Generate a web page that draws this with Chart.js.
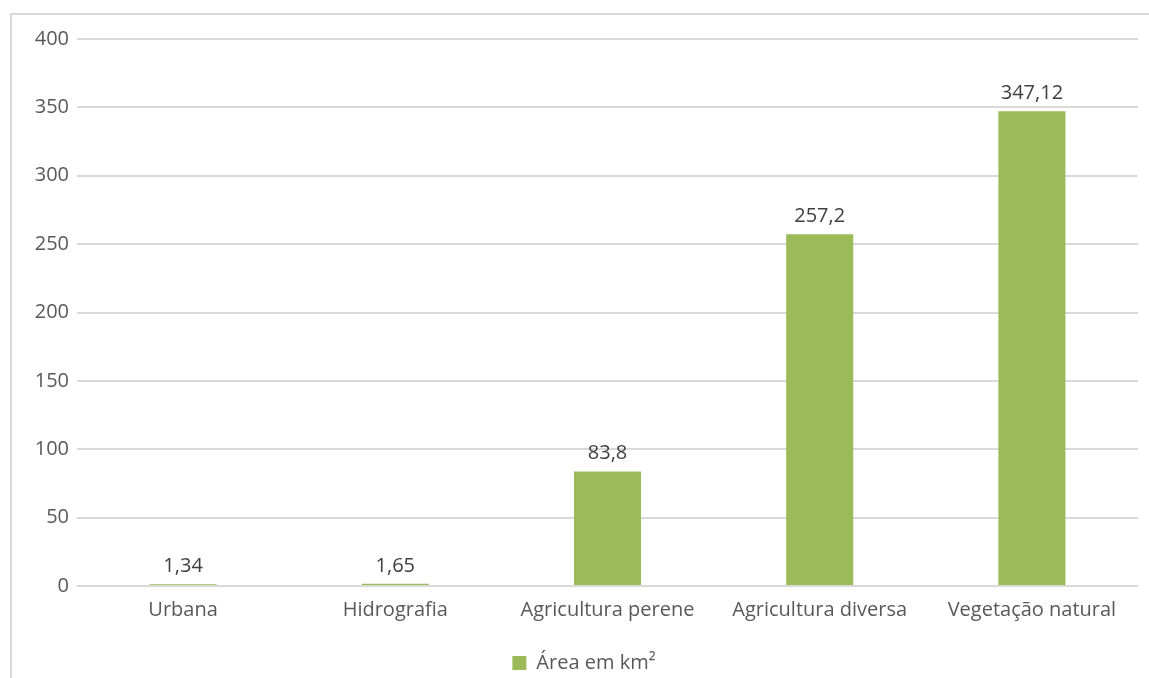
<!DOCTYPE html>
<html>
<head>
<meta charset="utf-8">
<script src="https://cdn.jsdelivr.net/npm/chart.js@4/dist/chart.umd.min.js"></script>
<style>
  html, body { margin: 0; padding: 0; background: #fff; }
  #wrap { width: 1149px; height: 678px; position: relative; }
</style>
</head>
<body>
<div id="wrap"><canvas id="canvas" width="1149" height="678"></canvas></div>
<script>
var categories = ["Urbana", "Hidrografia", "Agricultura perene", "Agricultura diversa", "Vegetação natural"];
var areaValues = [1.34, 1.65, 83.8, 257.2, 347.12];
var seriesName = "Área em km²";
var yTicks = [0, 50, 100, 150, 200, 250, 300, 350, 400];

var barGreen = "#9bbb59";
var textGrey = "#595959";
var fontFamily = "'Open Sans', 'Liberation Sans', sans-serif";

// frame of the chart object, cut off at the right and bottom edges
var framePlugin = {
  id: "frame",
  beforeDraw: function (chart) {
    var ctx = chart.ctx;
    ctx.save();
    ctx.strokeStyle = "#d9d9d9";
    ctx.lineWidth = 2;
    ctx.beginPath();
    ctx.moveTo(11, 700);
    ctx.lineTo(11, 14);
    ctx.lineTo(1160, 14);
    ctx.stroke();
    ctx.restore();
  }
};

// value labels above each bar, decimal comma
var labelPlugin = {
  id: "valueLabels",
  afterDatasetsDraw: function (chart) {
    var ctx = chart.ctx;
    var meta = chart.getDatasetMeta(0);
    ctx.save();
    ctx.font = "20px " + fontFamily;
    ctx.fillStyle = "#404040";
    ctx.textAlign = "center";
    ctx.textBaseline = "alphabetic";
    meta.data.forEach(function (bar, i) {
      var txt = String(areaValues[i]).replace(".", ",");
      ctx.fillText(txt, bar.x, bar.y - 12);
    });
    ctx.restore();
  }
};

// push the legend further below the axis and a bit to the right
var legendGap = {
  id: "legendGap",
  beforeInit: function (chart) {
    var origFit = chart.legend.fit;
    chart.legend.fit = function () {
      origFit.bind(chart.legend)();
      this.height += 14;
    };
  },
  afterLayout: function (chart) {
    var lg = chart.legend;
    lg.top += 19;
    lg.bottom += 19;
    lg.left += 15;
    lg.right += 15;
  }
};

var ctx = document.getElementById("canvas").getContext("2d");
var myBar = new Chart(ctx, {
  type: "bar",
  data: {
    labels: categories,
    datasets: [{
      label: seriesName,
      data: areaValues,
      backgroundColor: barGreen,
      borderWidth: 0,
      categoryPercentage: 1,
      barPercentage: 0.316
    }]
  },
  options: {
    responsive: false,
    animation: false,
    layout: { padding: { top: 39, right: 11, bottom: 0, left: 0 } },
    plugins: {
      legend: {
        position: "bottom",
        labels: {
          color: textGrey,
          font: { family: fontFamily, size: 20 },
          boxWidth: 14,
          boxHeight: 14,
          padding: 8
        }
      },
      tooltip: { enabled: false }
    },
    scales: {
      x: {
        grid: { display: false },
        border: { display: false },
        ticks: {
          color: textGrey,
          font: { family: fontFamily, size: 20 },
          padding: 4,
          maxRotation: 0
        }
      },
      y: {
        min: 0,
        max: 400,
        afterBuildTicks: function (scale) {
          scale.ticks = yTicks.map(function (v) { return { value: v }; });
        },
        afterFit: function (scale) { scale.width = 77; },
        grid: { color: "#d9d9d9", lineWidth: 2, drawTicks: false },
        border: { display: false },
        ticks: {
          color: textGrey,
          font: { family: fontFamily, size: 20 },
          padding: 8
        }
      }
    }
  },
  plugins: [framePlugin, labelPlugin, legendGap]
});
</script>
</body>
</html>
